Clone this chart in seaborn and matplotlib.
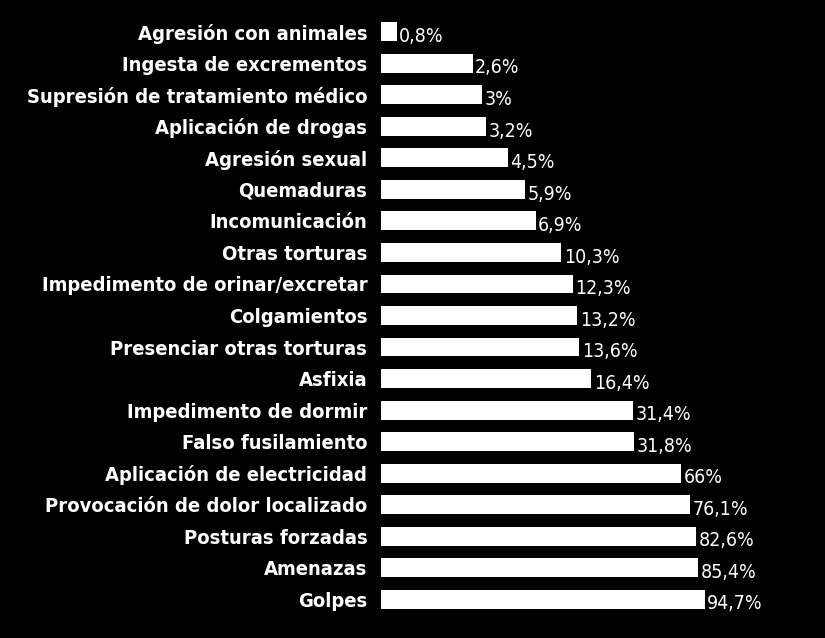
import matplotlib
matplotlib.use("Agg")
import matplotlib.pyplot as plt
import seaborn as sns
import pandas as pd

categories = ["Agresión con animales","Ingesta de excrementos","Supresión de tratamiento médico",
 "Aplicación de drogas","Agresión sexual","Quemaduras","Incomunicación","Otras torturas",
 "Impedimento de orinar/excretar","Colgamientos","Presenciar otras torturas","Asfixia",
 "Impedimento de dormir","Falso fusilamiento","Aplicación de electricidad",
 "Provocación de dolor localizado","Posturas forzadas","Amenazas","Golpes"]
values = [0.8,2.6,3,3.2,4.5,5.9,6.9,10.3,12.3,13.2,13.6,16.4,31.4,31.8,66,76.1,82.6,85.4,94.7]
labels = ["0,8%","2,6%","3%","3,2%","4,5%","5,9%","6,9%","10,3%","12,3%","13,2%","13,6%","16,4%",
 "31,4%","31,8%","66%","76,1%","82,6%","85,4%","94,7%"]

df = pd.DataFrame({"cat": categories, "val": values})
fig = plt.figure(figsize=(8.25, 6.38), dpi=100, facecolor="black")
ax = fig.add_axes([0.462, 0.036, 0.51, 0.939], facecolor="black")
base = 0.63
ax.set_xscale("log")
sns.barplot(data=df, x="val", y="cat", color="white", width=0.6, ax=ax, orient="h", saturation=1)
ax.set_xlim(base, 428)
for p, v in zip(ax.patches, values):
    p.set_x(base); p.set_width(v - base)
for i, (v, l) in enumerate(zip(values, labels)):
    ax.text(v * 1.04, i + 0.15, l, color="white", va="center", ha="left", fontsize=14,
            family="DejaVu Sans", fontstretch="condensed")
ax.set_yticks(range(len(categories)))
ax.set_yticklabels(categories, color="white", fontsize=14.5, fontweight="bold",
                   family="DejaVu Sans", fontstretch="condensed")
ax.tick_params(axis="y", length=0, pad=10)
ax.set_xticks([]); ax.set_xticks([], minor=True)
ax.set_xlabel(""); ax.set_ylabel("")
for s in ax.spines.values():
    s.set_visible(False)
fig.savefig("out.png", facecolor="black")
